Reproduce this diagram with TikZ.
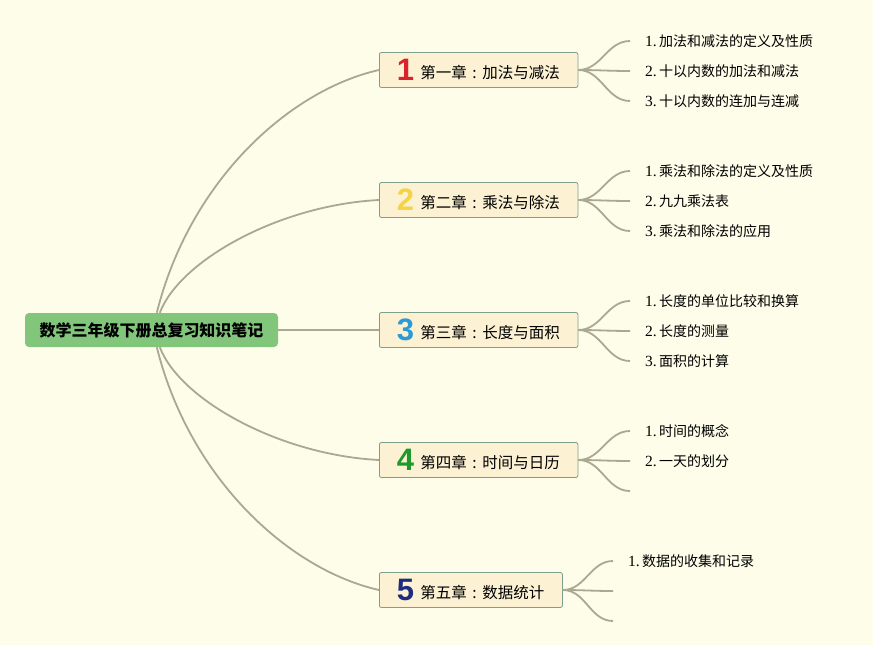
\documentclass[tikz,border=0pt]{standalone}
\usepackage{fontspec}
\newfontfamily\cjk{Noto Sans CJK SC}
\newfontfamily\numfont{Liberation Sans}
\newfontfamily\leafnum{Liberation Serif}

\definecolor{bgyellow}{HTML}{FDFDEA}
\definecolor{rootgreen}{HTML}{82C67C}
\definecolor{boxcream}{HTML}{FCF1D3}
\definecolor{boxedge}{HTML}{7E9E8E}
\definecolor{linegray}{HTML}{A9A891}
\definecolor{numred}{HTML}{D8232C}
\definecolor{numyellow}{HTML}{F4D444}
\definecolor{numblue}{HTML}{2B9AD6}
\definecolor{numgreen}{HTML}{1E9A2C}
\definecolor{numnavy}{HTML}{1F2B7E}

\newcommand{\chapicon}[2]{\raisebox{-2pt}{\makebox[16pt]{\numfont\bfseries\fontsize{31}{31}\selectfont\color{#1}#2}}\hspace{7pt}}
\newcommand{\chapsep}{\makebox[1em]{:}}
\newcommand{\leafitem}[2]{{\leafnum\fontsize{15.5}{15.5}\selectfont #1.}\hspace{2.5pt}{\cjk #2}}

\tikzstyle{root} = [fill=rootgreen, draw=none, rounded corners=4pt, minimum width=253pt, minimum height=34pt, inner sep=0pt, font=\cjk\bfseries\fontsize{16}{16}\selectfont, text centered]
\tikzstyle{chapter} = [fill=boxcream, draw=boxedge, line width=0.8pt, rounded corners=2pt, anchor=west, minimum height=35pt, inner xsep=18pt, inner ysep=0pt, font=\cjk\fontsize{15.5}{15.5}\selectfont]
\tikzstyle{leaf} = [draw=none, fill=none, anchor=west, inner xsep=0pt, outer xsep=15pt, font=\fontsize{14}{14}\selectfont]
\tikzstyle{branch} = [draw=linegray, line width=1.8pt]

\begin{document}
\begin{tikzpicture}[x=1pt, y=-1pt]
    \useasboundingbox (0,0) rectangle (873,645);
    \fill[bgyellow] (0,0) rectangle (873,645);

    \node[root] (root) at (151.5,330) {数学三年级下册总复习知识笔记};

    \node[chapter] (ch1) at (379,70) {\chapicon{numred}{1}第一章\chapsep 加法与减法};
    \node[chapter] (ch2) at (379,200) {\chapicon{numyellow}{2}第二章\chapsep 乘法与除法};
    \node[chapter] (ch3) at (379,330) {\chapicon{numblue}{3}第三章\chapsep 长度与面积};
    \node[chapter] (ch4) at (379,460) {\chapicon{numgreen}{4}第四章\chapsep 时间与日历};
    \node[chapter] (ch5) at (379,590) {\chapicon{numnavy}{5}第五章\chapsep 数据统计};

    % root to chapters
    \draw[branch] ([xshift=132pt]root.north west) .. controls (190,180) and (290,90) .. (ch1.west);
    \draw[branch] ([xshift=135pt]root.north west) .. controls (180,260) and (280,205) .. (ch2.west);
    \draw[branch] (root.east) -- (ch3.west);
    \draw[branch] ([xshift=135pt]root.south west) .. controls (180,400) and (280,455) .. (ch4.west);
    \draw[branch] ([xshift=132pt]root.south west) .. controls (190,480) and (290,570) .. (ch5.west);

    % chapter 1
    \node[leaf] (l11) at (630,41) {\leafitem{1}{加法和减法的定义及性质}};
    \node[leaf] (l12) at (630,71) {\leafitem{2}{十以内数的加法和减法}};
    \node[leaf] (l13) at (630,101) {\leafitem{3}{十以内数的连加与连减}};
    % chapter 2
    \node[leaf] (l21) at (630,171) {\leafitem{1}{乘法和除法的定义及性质}};
    \node[leaf] (l22) at (630,201) {\leafitem{2}{九九乘法表}};
    \node[leaf] (l23) at (630,231) {\leafitem{3}{乘法和除法的应用}};
    % chapter 3
    \node[leaf] (l31) at (630,301) {\leafitem{1}{长度的单位比较和换算}};
    \node[leaf] (l32) at (630,331) {\leafitem{2}{长度的测量}};
    \node[leaf] (l33) at (630,361) {\leafitem{3}{面积的计算}};
    % chapter 4
    \node[leaf] (l41) at (630,431) {\leafitem{1}{时间的概念}};
    \node[leaf] (l42) at (630,461) {\leafitem{2}{一天的划分}};
    \coordinate (e43) at (630,491);
    % chapter 5
    \node[leaf] (l51) at (613,561) {\leafitem{1}{数据的收集和记录}};
    \coordinate (e52) at (613,591);
    \coordinate (e53) at (613,621);

    \draw[branch] (ch1.east) to[out=0, in=180] (l11.west);
    \draw[branch] (ch1.east) to[out=0, in=180] (l12.west);
    \draw[branch] (ch1.east) to[out=0, in=180] (l13.west);
    \draw[branch] (ch2.east) to[out=0, in=180] (l21.west);
    \draw[branch] (ch2.east) to[out=0, in=180] (l22.west);
    \draw[branch] (ch2.east) to[out=0, in=180] (l23.west);
    \draw[branch] (ch3.east) to[out=0, in=180] (l31.west);
    \draw[branch] (ch3.east) to[out=0, in=180] (l32.west);
    \draw[branch] (ch3.east) to[out=0, in=180] (l33.west);
    \draw[branch] (ch4.east) to[out=0, in=180] (l41.west);
    \draw[branch] (ch4.east) to[out=0, in=180] (l42.west);
    \draw[branch] (ch4.east) to[out=0, in=180] (e43);
    \draw[branch] (ch5.east) to[out=0, in=180] (l51.west);
    \draw[branch] (ch5.east) to[out=0, in=180] (e52);
    \draw[branch] (ch5.east) to[out=0, in=180] (e53);
\end{tikzpicture}
\end{document}
